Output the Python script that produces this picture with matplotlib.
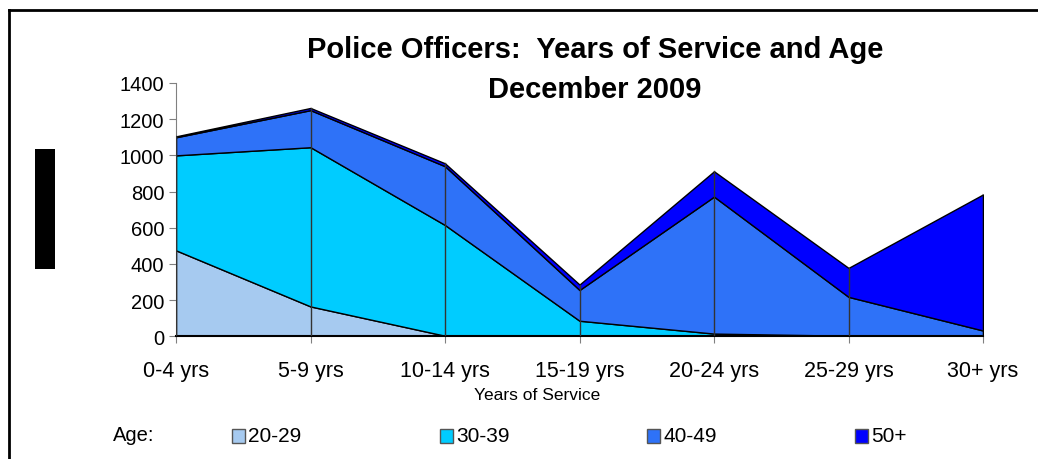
import numpy as np
import matplotlib
matplotlib.use("Agg")
import matplotlib.pyplot as plt
from matplotlib.patches import Rectangle
from matplotlib.lines import Line2D

plt.rcParams['font.family'] = ['Liberation Sans', 'DejaVu Sans']

# data
categories = ["0-4 yrs", "5-9 yrs", "10-14 yrs", "15-19 yrs", "20-24 yrs", "25-29 yrs", "30+ yrs"]
age_20_29 = [475, 165, 3, 0, 0, 0, 0]
age_30_39 = [525, 880, 612, 86, 15, 3, 2]
age_40_49 = [100, 205, 325, 170, 757, 215, 30]
age_50p = [5, 12, 16, 30, 140, 160, 752]
labels = ["20-29", "30-39", "40-49", "50+"]
colors = ["#a6caf0", "#00ccff", "#2e72f8", "#0000ff"]

fig = plt.figure(figsize=(10.38, 4.6), dpi=100)
ax = fig.add_axes([176/1038, 1-337.3/460, (983-176)/1038, (337.3-84)/460])

x = np.arange(len(categories))
series = np.array([age_20_29, age_30_39, age_40_49, age_50p])
ax.stackplot(x, series, colors=colors, edgecolor="black", linewidth=1.0)

# vertical drop lines at each category
tops = series.sum(axis=0)
for i in x:
    ax.plot([i, i], [0, tops[i]], color="#333333", linewidth=1.0, zorder=3)

ax.set_xlim(0, len(categories)-1)
ax.set_ylim(0, 1400)
ax.set_yticks(np.arange(0, 1401, 200))
ax.set_xticks(x)
ax.set_xticklabels(categories)
ax.tick_params(axis='both', color="#808080", length=5)
ax.tick_params(axis='y', labelsize=14.5)
ax.tick_params(axis='x', labelsize=15.5, pad=12)
ax.spines['top'].set_visible(False)
ax.spines['right'].set_visible(False)
ax.spines['left'].set_color("#808080")
ax.spines['bottom'].set_color("black")
ax.spines['bottom'].set_linewidth(1.5)

fig.text(537/1038, 1-395/460, "Years of Service", ha="center", va="center", fontsize=12.5)

fig.text(595/1038, 1-50/460, "Police Officers:  Years of Service and Age", ha="center", va="center",
         fontsize=21, fontweight="bold")
fig.text(595/1038, 1-90/460, "December 2009", ha="center", va="center",
         fontsize=21, fontweight="bold")

# redacted y label block
fig.patches.append(Rectangle((35/1038, 1-270/460), 20/1038, 120/460, transform=fig.transFigure,
                             facecolor="black", edgecolor="none"))

# frame lines
fig.add_artist(Line2D([8.5/1038, 8.5/1038], [0, 1-11/460], transform=fig.transFigure, color="black", linewidth=2))
fig.add_artist(Line2D([8.5/1038, 1], [1-11/460, 1-11/460], transform=fig.transFigure, color="black", linewidth=2))

# legend
fig.text(113/1038, 1-436/460, "Age:", ha="left", va="center", fontsize=14.5)
leg_x = [232, 440, 647, 855]
for lx, lab, c in zip(leg_x, labels, colors):
    fig.patches.append(Rectangle((lx/1038, 1-444/460), 13/1038, 14/460, transform=fig.transFigure,
                                 facecolor=c, edgecolor="#555555", linewidth=1))
    fig.text((lx+16)/1038, 1-437/460, lab, ha="left", va="center", fontsize=15)

fig.savefig("out.png", dpi=100)
